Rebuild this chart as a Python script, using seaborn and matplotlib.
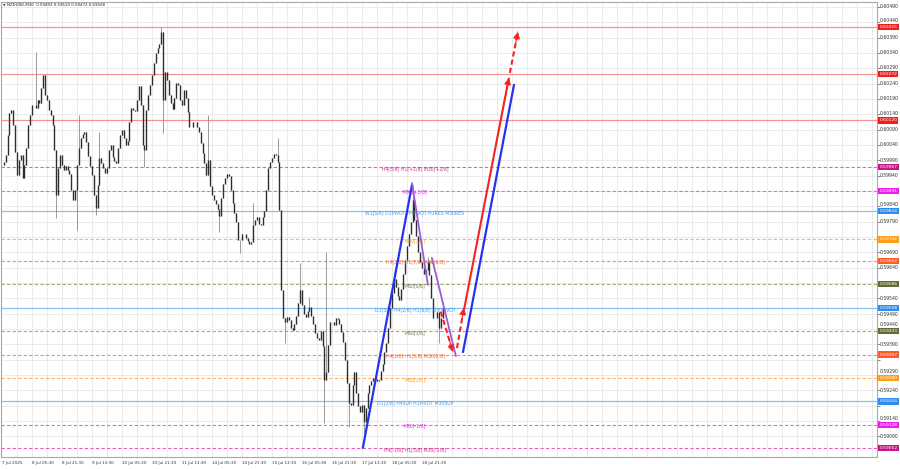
import numpy as np
import matplotlib
matplotlib.use("Agg")
import matplotlib.pyplot as plt
import matplotlib.transforms as mtransforms
import seaborn as sns

# ---------------- data ----------------
title_text = "NZDUSD,M30  0.59493 0.59510 0.59472 0.59508"

# hourly closes
close = [
    0.59975, 0.59984, 0.60008, 0.60073, 0.60144, 0.60154, 0.60106, 0.60017, 0.59943, 0.59991,
    0.60008, 0.59933, 0.59975, 0.60031, 0.60106, 0.60138, 0.60171, 0.60171, 0.60161, 0.60187,
    0.60177, 0.60227, 0.60269, 0.60204, 0.60187, 0.60154, 0.60138, 0.60106, 0.60024, 0.59878,
    0.59966, 0.60008, 0.59975, 0.59959, 0.59972, 0.59959, 0.59946, 0.59894, 0.59861, 0.59894,
    0.59975, 0.60031, 0.60063, 0.60076, 0.60083, 0.60050, 0.60004, 0.59972, 0.59943, 0.59878,
    0.59835, 0.59910, 0.59998, 0.59981, 0.59966, 0.59949, 0.59966, 0.60024, 0.60040, 0.60001,
    0.59988, 0.59981, 0.60031, 0.60073, 0.60089, 0.60063, 0.60040, 0.60053, 0.60115, 0.60161,
    0.60154, 0.60151, 0.60187, 0.60233, 0.60171, 0.60040, 0.60024, 0.60154, 0.60204, 0.60236,
    0.60269, 0.60308, 0.60340, 0.60357, 0.60370, 0.60409, 0.60187, 0.60278, 0.60252, 0.60204,
    0.60177, 0.60158, 0.60193, 0.60242, 0.60236, 0.60187, 0.60171, 0.60220, 0.60193, 0.60148,
    0.60099, 0.60099, 0.60115, 0.60115, 0.60099, 0.60083, 0.60047, 0.60014, 0.59981, 0.59943,
    0.59991, 0.59907, 0.59878, 0.59861, 0.59848, 0.59832, 0.59809, 0.59868, 0.59913, 0.59933,
    0.59946, 0.59939, 0.59894, 0.59851, 0.59818, 0.59789, 0.59731, 0.59731, 0.59750, 0.59750,
    0.59737, 0.59727, 0.59718, 0.59724, 0.59780, 0.59796, 0.59806, 0.59783, 0.59780, 0.59806,
    0.59825, 0.59894, 0.59966, 0.59984, 0.59998, 0.60011, 0.60008, 0.59984, 0.59828, 0.59568,
    0.59476, 0.59463, 0.59480, 0.59470, 0.59444, 0.59437, 0.59457, 0.59483, 0.59525, 0.59568,
    0.59519, 0.59489, 0.59480, 0.59499, 0.59512, 0.59483, 0.59457, 0.59427, 0.59411, 0.59405,
    0.59434, 0.59385, 0.59274, 0.59300, 0.59388, 0.59463, 0.59463, 0.59454, 0.59476, 0.59473,
    0.59457, 0.59431, 0.59398, 0.59339, 0.59264, 0.59199, 0.59193, 0.59258, 0.59300, 0.59232,
    0.59189, 0.59170, 0.59193, 0.59137, 0.59183, 0.59232, 0.59258, 0.59271, 0.59281, 0.59277,
    0.59271, 0.59274, 0.59304, 0.59326, 0.59365, 0.59395, 0.59444, 0.59509, 0.59558, 0.59604,
    0.59577, 0.59548, 0.59535, 0.59571, 0.59620, 0.59665, 0.59711, 0.59750, 0.59789, 0.59861,
    0.59796, 0.59744, 0.59691, 0.59659, 0.59639, 0.59620, 0.59633, 0.59659, 0.59616, 0.59542,
    0.59476, 0.59476, 0.59496, 0.59444, 0.59476, 0.59508,
]

# notable wick extremes (bar index, price)
wick_bar = [18, 29, 40, 41, 50, 52, 76, 85, 86, 110, 116, 127, 134, 147, 151, 159,
            164, 172, 173, 185, 193, 209, 219, 227, 233]
wick_price = [0.60344, 0.59802, 0.59763, 0.60138, 0.59812, 0.60083, 0.59969, 0.60425,
              0.60079, 0.60138, 0.59757, 0.59688, 0.59851, 0.60063, 0.59395, 0.59656,
              0.59545, 0.59134, 0.59691, 0.59121, 0.59102, 0.59626, 0.59910, 0.59675,
              0.59395]

time_labels = ["7 Jul 2025", "8 Jul 05:30", "8 Jul 21:30", "9 Jul 13:30", "10 Jul 05:30",
               "10 Jul 21:30", "11 Jul 13:30", "14 Jul 05:30", "14 Jul 21:30", "15 Jul 13:30",
               "16 Jul 05:30", "16 Jul 21:30", "17 Jul 13:30", "18 Jul 05:30", "18 Jul 21:30"]
time_label_bars = [0, 16, 32, 48, 64, 80, 96, 112, 128, 144, 160, 176, 192, 208, 224]

price_ticks = [0.59090, 0.59140, 0.59190, 0.59240, 0.59290, 0.59340, 0.59390, 0.59440,
               0.59490, 0.59540, 0.59590, 0.59640, 0.59690, 0.59740, 0.59790, 0.59840,
               0.59890, 0.59940, 0.59990, 0.60040, 0.60090, 0.60140, 0.60190, 0.60240,
               0.60290, 0.60340, 0.60390, 0.60440, 0.60490]
# scale labels hidden behind the level boxes in the reference
hidden_ticks = [0.59190, 0.59340, 0.59590, 0.59740, 0.59890]

red_levels = [0.60425, 0.60272, 0.60120]

level_prices = [0.59967, 0.59891, 0.59824, 0.59732, 0.59662, 0.59586, 0.59508,
                0.59433, 0.59357, 0.59280, 0.59204, 0.59128, 0.59052]
level_names = ["H4[5/8] H1[+1/8] M30[+2/8]", "M30[+1/8]",
               "W1[5/8] D1PIVOT H4PIVOT H1RES M30RES", "M30[7/8]",
               "H4[3/8] H1[7/8] M30[6/8]", "M30[5/8]",
               "D1[3/8] H4[2/8] H1[6/8] M30PIVOT", "M30[3/8]",
               "H4[1/8] H1[5/8] M30[2/8]", "M30[1/8]",
               "D1[2/8] H4SUP H1PIVOT M30SUP", "M30[-1/8]",
               "H4[-1/8] H1[3/8] M30[-2/8]"]
level_kind = ["pink", "magenta", "pivot", "orange", "tomato", "olive", "pivot",
              "olive", "tomato", "orange", "pivot", "magenta", "pink"]

# projection / swing drawings (bar index, price)
blue1_t, blue1_p = [192.5, 218.7], [0.59053, 0.59910]
blue2_t, blue2_p = [245.9, 273.1], [0.59365, 0.60236]
purple1_t, purple1_p = [218.7, 227.2], [0.59916, 0.59584]
purple2_t, purple2_p = [229.3, 242.1], [0.59672, 0.59352]
red_dn_t, red_dn_p = [234.1, 240.5], [0.59496, 0.59365]
red_up_t, red_up_p = [242.7, 246.4], [0.59378, 0.59509]
red_main_t, red_main_p = [246.4, 270.4], [0.59502, 0.60259]
red_ext_t, red_ext_p = [270.9, 275.2], [0.60275, 0.60409]

# ---------------- style ----------------
sns.set_style("white")
plt.rcParams['font.family'] = ['DejaVu Sans']

line_col = {"pink": "#E85CB8", "magenta": "#F45AF4", "pivot": "#86C0F6", "orange": "#FDB466",
            "tomato": "#FD8A64", "olive": "#A4AA78"}
box_col = {"pink": "#C8178A", "magenta": "#F21CF2", "pivot": "#2C8EF0", "orange": "#FF9C1A",
           "tomato": "#FF5A26", "olive": "#5F6E34"}
text_col = {"pink": "#C8308F", "magenta": "#E520E5", "pivot": "#3D95EA", "orange": "#F59A2A",
            "tomato": "#F2602E", "olive": "#66704A"}

fig = plt.figure(figsize=(9.0, 4.69), dpi=100)
fig.patch.set_facecolor("white")
ax = fig.add_axes([1 / 900, 12 / 469, 876 / 900, 455 / 469])
ax.set_facecolor("white")

n = len(close)
x = np.arange(n)
c = np.array(close)
o = np.r_[c[0], c[:-1]]
body_hi = np.maximum(o, c)
body_lo = np.minimum(o, c)
w_hi = body_hi.copy()
w_lo = body_lo.copy()
for b, p in zip(wick_bar, wick_price):
    if p > w_hi[b]:
        w_hi[b] = p
    if p < w_lo[b]:
        w_lo[b] = p

ax.set_xlim(-0.5, 466.7)
ax.set_ylim(0.59023, 0.60506)

# grid
for gx in range(8, 467, 8):
    ax.axvline(gx, color="#E8E8E8", lw=0.6, zorder=0)
for gy in price_ticks:
    ax.axhline(gy, color="#E8E8E8", lw=0.6, zorder=0)

# level lines
for lv in red_levels:
    ax.axhline(lv, color="#F49494", lw=0.9, zorder=1)
for lv, kind in zip(level_prices, level_kind):
    if kind == "pivot":
        ax.axhline(lv, color=line_col[kind], lw=0.9, zorder=1)
    else:
        ax.axhline(lv, color=line_col[kind], lw=0.8, ls=(0, (3, 2)), zorder=1)

# candles
ax.vlines(x, w_lo, w_hi, color="#8A8A8A", lw=0.6, zorder=3)
ax.vlines(x, body_lo, body_hi, color="#2E2E2E", lw=1.0, zorder=3)

# level labels in chart
label_x = 220.3
for lv, name, kind in zip(level_prices, level_names, level_kind):
    ax.text(label_x, lv - 0.00004, name, fontsize=3.3, color=text_col[kind],
            ha="center", va="center", zorder=6)

# swing lines
sns.lineplot(x=blue1_t, y=blue1_p, ax=ax, color="#2433F2", linewidth=1.6, sort=False, zorder=7)
sns.lineplot(x=blue2_t, y=blue2_p, ax=ax, color="#2433F2", linewidth=1.6, sort=False, zorder=7)
sns.lineplot(x=purple1_t, y=purple1_p, ax=ax, color="#A05AD8", linewidth=1.3, sort=False, zorder=7)
sns.lineplot(x=purple2_t, y=purple2_p, ax=ax, color="#A05AD8", linewidth=1.3, sort=False, zorder=7)


def arrow(ts, ps, dashed):
    ax.plot(ts, ps, color="#F52323", lw=1.5, ls=(0, (2.5, 1.5)) if dashed else "-",
            zorder=8, solid_capstyle="butt")
    xs = ts[0] + 0.7 * (ts[1] - ts[0])
    ys = ps[0] + 0.7 * (ps[1] - ps[0])
    ax.annotate("", xy=(ts[1], ps[1]), xytext=(xs, ys),
                arrowprops=dict(arrowstyle="-|>,head_length=0.5,head_width=0.25",
                                color="#F52323", lw=0.8, shrinkA=0, shrinkB=0,
                                mutation_scale=8), zorder=9)


arrow(red_dn_t, red_dn_p, True)
arrow(red_up_t, red_up_p, True)
arrow(red_main_t, red_main_p, False)
arrow(red_ext_t, red_ext_p, True)

# axes ticks
ax.yaxis.tick_right()
ax.set_yticks(price_ticks)
ax.tick_params(axis="y", labelright=False, labelleft=False, length=2, width=0.5,
               colors="#555555")
ax.set_xticks(time_label_bars)
ax.set_xticklabels(time_labels)
for t in ax.get_xticklabels():
    t.set_ha("left")
ax.tick_params(axis="x", labelsize=3.0, length=2, width=0.5, pad=1.0, colors="#333333")
for s in ax.spines.values():
    s.set_color("#A8A8A8")
    s.set_linewidth(0.8)
ax.set_xlabel("")
ax.set_ylabel("")

trans = mtransforms.blended_transform_factory(ax.transAxes, ax.transData)
all_boxes = red_levels + level_prices
min_gap = 0.00021  # about 6.5 px

# price scale labels (nudged away from neighbouring boxes, like the terminal does)
for tk in price_ticks:
    if any(abs(tk - h) < 1e-7 for h in hidden_ticks):
        continue
    ypos = tk
    for b in all_boxes:
        d = ypos - b
        if 0 <= d < min_gap:
            ypos = b + min_gap
        elif -min_gap < d < 0:
            ypos = b - min_gap
    ax.text(1.0 + 3 / 876, ypos, f"{tk:.5f}", transform=trans, fontsize=3.3,
            color="#333333", ha="left", va="center", zorder=9, clip_on=False)

# right-side price boxes
for lv in red_levels:
    ax.text(1.0 + 2.5 / 876, lv, f"{lv:.5f}", transform=trans, fontsize=3.2, color="white",
            ha="left", va="center", zorder=10, clip_on=False,
            bbox=dict(boxstyle="square,pad=0.25", fc="#F21D1D", ec="none"))
for lv, kind in zip(level_prices, level_kind):
    ax.text(1.0 + 2.5 / 876, lv, f"{lv:.5f}", transform=trans, fontsize=3.2, color="white",
            ha="left", va="center", zorder=10, clip_on=False,
            bbox=dict(boxstyle="square,pad=0.25", fc=box_col[kind], ec="none"))

# title
fig.text(3 / 900, 1 - 5.5 / 469, "▼", fontsize=2.4, color="#333333", ha="left", va="center")
fig.text(7 / 900, 1 - 5.5 / 469, title_text, fontsize=2.9, color="#222222",
         ha="left", va="center")

fig.savefig("out.png", dpi=100, facecolor="white")
